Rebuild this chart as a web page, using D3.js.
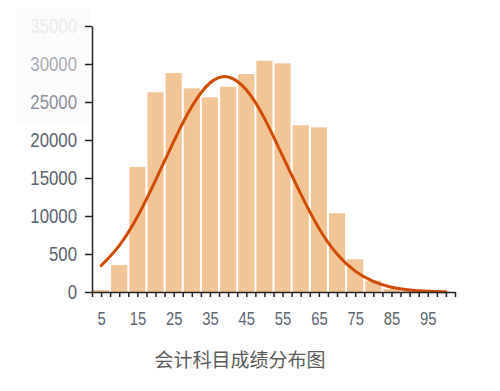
<!DOCTYPE html>
<html>
<head>
<meta charset="utf-8">
<script src="https://cdnjs.cloudflare.com/ajax/libs/d3/7.8.5/d3.min.js"></script>
<style>
  body { margin: 0; background: #fff; }
  .axis text { font-family: "Liberation Sans", Arial, sans-serif; fill: #5c6470; }
  .axis path, .axis line { stroke: #222; }
</style>
</head>
<body>
<div id="chart"></div>
<script>
const width = 500;
const height = 391;

// score bins (centre of each 5-point bin) and head counts
const binCenters = [5, 10, 15, 20, 25, 30, 35, 40, 45, 50, 55, 60, 65, 70, 75, 80, 85, 90, 95];
const binCounts = [260, 3550, 16450, 26280, 28820, 26800, 25620, 27010, 28680, 30430, 30090, 21930, 21670, 10360, 4300, 1490, 400, 130, 40];

// fitted curve
const curveX = [5, 10, 15, 20, 25, 30, 35, 40, 45, 50, 55, 60, 65, 70, 75, 80, 85, 90, 95, 100];
const curveY = [3450, 6100, 9900, 14700, 19800, 24400, 27500, 28300, 26600, 22850, 17900, 12900, 8400, 5000, 2750, 1400, 620, 250, 90, 30];

const yTicks = [0, 5000, 10000, 15000, 20000, 25000, 30000, 35000];
const yTickLabels = ['0', '500', '10000', '15000', '20000', '25000', '30000', '35000'];
const yTickFade = [1, 1, 1, 1, 1, 0.7, 0.5, 0.1];
const xTickLabels = [5, 15, 25, 35, 45, 55, 65, 75, 85, 95];
const title = '会计科目成绩分布图';

const svg = d3.select('#chart')
  .append('svg')
  .attr('width', width)
  .attr('height', height);

const x = d3.scaleLinear().domain([2.5, 102.5]).range([92, 455]);
const y = d3.scaleLinear().domain([0, 35000]).range([292, 26]);
const binW = x(5) - x(0);

// faint box behind the top labels
svg.append('rect')
  .attr('x', 17).attr('y', 8)
  .attr('width', 73).attr('height', 115)
  .attr('fill', '#fbfbfb');

// bars
svg.append('g').selectAll('rect')
  .data(binCenters)
  .enter().append('rect')
  .attr('x', (d) => x(d - 2.5) + 1)
  .attr('width', binW - 2)
  .attr('y', (d, i) => y(binCounts[i]))
  .attr('height', (d, i) => y(0) - y(binCounts[i]))
  .attr('fill', '#f2c596');

// curve
const line = d3.line()
  .x((d) => x(d))
  .y((d, i) => y(curveY[i]))
  .curve(d3.curveNatural);

svg.append('path')
  .datum(curveX)
  .attr('d', line)
  .attr('fill', 'none')
  .attr('stroke', '#d04c05')
  .attr('stroke-width', 3)
  .attr('stroke-linecap', 'round');

// y axis
const yAxis = svg.append('g')
  .attr('class', 'axis')
  .attr('transform', 'translate(92,0)')
  .call(d3.axisLeft(y)
    .tickValues(yTicks)
    .tickSize(7)
    .tickSizeOuter(0)
    .tickFormat((d, i) => yTickLabels[i]));
yAxis.selectAll('text')
  .style('font-size', '21px')
  .attr('x', -15 / 0.8)
  .attr('transform', 'scale(0.8,1)')
  .style('opacity', (d, i) => yTickFade[i]);
yAxis.selectAll('path, line').attr('stroke-width', 1.5);

// x axis
const xAxis = svg.append('g')
  .attr('class', 'axis')
  .attr('transform', 'translate(0,292)')
  .call(d3.axisBottom(x)
    .tickValues(d3.range(2.5, 102.6, 2.5))
    .tickSize(5)
    .tickSizeOuter(0)
    .tickPadding(15)
    .tickFormat((d) => xTickLabels.includes(d) ? d : ''));
xAxis.selectAll('text')
  .style('font-size', '18.5px')
  .attr('transform', 'scale(0.8,1)');
xAxis.selectAll('path, line').attr('stroke-width', 1.5);

// title
svg.append('text')
  .attr('x', 240)
  .attr('y', 367)
  .attr('text-anchor', 'middle')
  .style('font-family', '"Noto Sans CJK SC", sans-serif')
  .style('font-size', '19px')
  .style('fill', '#5a5a5a')
  .text(title);
</script>
</body>
</html>
